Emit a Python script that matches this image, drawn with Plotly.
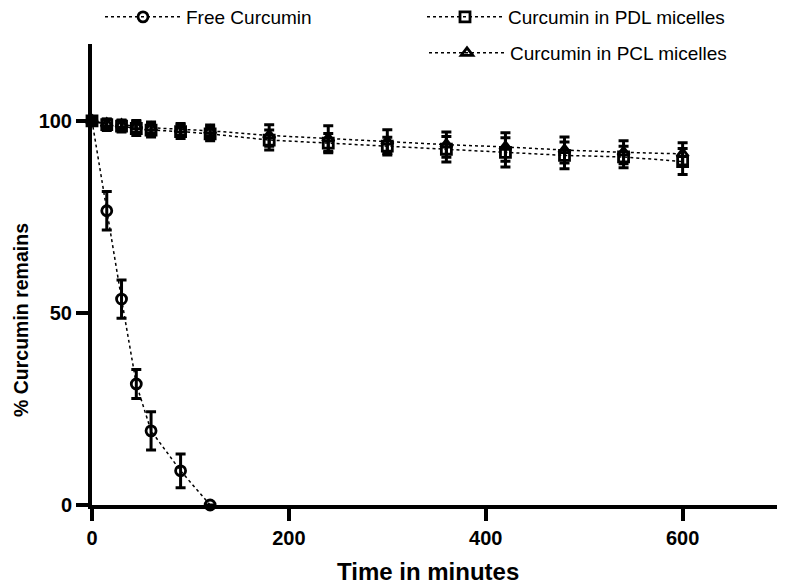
import plotly.graph_objects as go

# tiempos de muestreo (minutos)
t_free = [0, 15, 30, 45, 60, 90, 120]
t_mic = [0, 15, 30, 45, 60, 90, 120, 180, 240, 300, 360, 420, 480, 540, 600]

# % curcumina restante
free_vals = [100, 76.6, 53.6, 31.5, 19.3, 8.9, 0]
free_err = [0, 5.0, 5.0, 3.8, 5.0, 4.4, 0]

pdl_vals = [100, 99.0, 98.6, 98.0, 97.6, 97.2, 96.6, 95.0, 94.2, 93.4, 92.6, 91.8, 91.0, 90.6, 89.4]
pdl_err = [1.0, 1.5, 1.5, 1.8, 1.8, 1.8, 1.8, 2.6, 2.5, 2.3, 3.3, 3.8, 3.5, 2.8, 3.4]

pcl_vals = [100, 99.2, 99.0, 98.6, 98.2, 97.8, 97.4, 96.2, 95.4, 94.6, 93.8, 93.2, 92.4, 91.8, 91.4]
pcl_err = [1.0, 1.2, 1.2, 1.5, 1.5, 1.5, 1.5, 2.8, 3.3, 3.1, 3.3, 3.7, 3.4, 3.0, 2.9]

x_ticks = [0, 200, 400, 600]
y_ticks = [0, 50, 100]

FONT = "Liberation Sans, Arial, sans-serif"

# la pagina tiene 8px de margen en el body: todo se desplaza 8px
OFF = 8
# zona de trazado en pixeles de la figura
L, R, T, B = 92 - OFF, 785 - OFF, 44 - OFF, 505 - OFF


def px(x):
    return (x - OFF - L) / (R - L)


def py(y):
    return (B - (y - OFF)) / (B - T)


def serie(x, y, err, nombre, simbolo, leyenda):
    return go.Scatter(
        x=x, y=y, name=nombre, mode="lines+markers", legend=leyenda,
        line=dict(color="black", width=1.5, dash="dot"),
        marker=dict(symbol=simbolo, size=10, color="black",
                    line=dict(color="black", width=2.8)),
        error_y=dict(type="data", array=err, color="black", thickness=3, width=5),
        cliponaxis=False,
    )


fig = go.Figure()
fig.add_trace(serie(t_free, free_vals, free_err, "Free Curcumin", "circle-open", "legend"))
fig.add_trace(serie(t_mic, pdl_vals, pdl_err, "Curcumin in PDL micelles", "square-open", "legend2"))
fig.add_trace(serie(t_mic, pcl_vals, pcl_err, "Curcumin in PCL micelles", "triangle-up-open", "legend3"))

leg = dict(xref="paper", yref="paper", xanchor="left", yanchor="top",
           font=dict(family=FONT, size=19, color="black"), itemwidth=76,
           bgcolor="rgba(0,0,0,0)")

ejes = dict(showline=True, linewidth=4, linecolor="black",
            ticks="outside", ticklen=12, tickwidth=4, tickcolor="black",
            showgrid=False, zeroline=False, automargin=False,
            tickfont=dict(family=FONT, size=20, weight="bold"))

fig.update_layout(
    width=785, height=588,
    margin=dict(l=L, r=785 - R, t=T, b=588 - B, autoexpand=False),
    plot_bgcolor="white", paper_bgcolor="white",
    font=dict(family=FONT, color="black"),
    showlegend=True,
    # posiciones en pixeles de pantalla (borde superior de cada leyenda)
    legend=dict(leg, x=px(100), y=py(-2)),
    legend2=dict(leg, x=px(422), y=py(-2)),
    legend3=dict(leg, x=px(424), y=py(34)),
    xaxis=dict(ejes, range=[0, 704], tickvals=x_ticks),
    yaxis=dict(ejes, range=[0, 120], tickvals=y_ticks),
)

# titulos de ejes como anotaciones para colocarlos igual que en el original
fig.add_annotation(text="Time in minutes", xref="paper", yref="paper",
                   x=px(428), y=py(571), xanchor="center", yanchor="middle",
                   showarrow=False, font=dict(family=FONT, size=24, weight="bold"))
fig.add_annotation(text="% Curcumin remains", xref="paper", yref="paper",
                   x=px(21), y=py(320), xanchor="center", yanchor="middle",
                   textangle=-90, showarrow=False,
                   font=dict(family=FONT, size=19.5, weight="bold"))

fig.write_html("out.html")
